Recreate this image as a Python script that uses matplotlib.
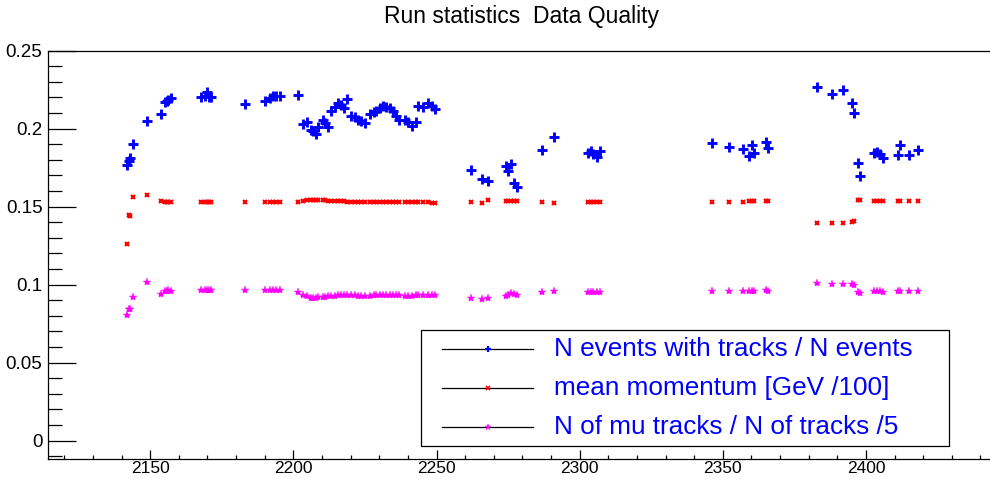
import matplotlib
matplotlib.use('Agg')
import matplotlib.pyplot as plt
from matplotlib.ticker import MultipleLocator, FuncFormatter
from matplotlib.patches import Rectangle
from matplotlib.lines import Line2D

# run numbers and the three quality ratios
runs = [2141.9, 2142.6, 2143.1, 2144.0, 2149.0, 2153.9, 2155.1, 2155.7, 2156.2, 2157.1,
        2167.9, 2169.0, 2169.8, 2170.5, 2171.4, 2183.0, 2190.0, 2191.8, 2192.9, 2194.1,
        2195.2, 2201.6, 2203.2, 2204.8, 2206.0, 2206.9, 2207.8, 2208.6, 2210.2, 2211.0,
        2212.1, 2213.3, 2214.5, 2215.6, 2216.8, 2217.7, 2218.9, 2220.0, 2221.5, 2222.6,
        2223.8, 2225.0, 2226.6, 2228.2, 2229.0, 2230.2, 2231.3, 2232.5, 2233.7, 2234.8,
        2236.0, 2236.8, 2238.9, 2240.1, 2241.3, 2243.0, 2243.6, 2245.3, 2247.1, 2248.3,
        2249.4, 2262.0, 2265.9, 2268.0, 2274.1, 2274.8, 2276.0, 2277.1, 2278.1, 2287.0,
        2291.0, 2303.0, 2303.9, 2304.7, 2305.9, 2307.1, 2346.1, 2352.1, 2356.9, 2359.1,
        2360.1, 2361.0, 2365.0, 2365.9, 2383.0, 2388.0, 2392.1, 2395.0, 2395.8, 2397.1,
        2398.0, 2402.9, 2403.9, 2404.9, 2405.8, 2411.1, 2412.0, 2415.0, 2418.1]

frac_tracks = [0.1769, 0.1790, 0.1813, 0.1905, 0.2050, 0.2093, 0.2174, 0.2180, 0.2186, 0.2197,
               0.2201, 0.2207, 0.2233, 0.2205, 0.2201, 0.2159, 0.2176, 0.2197, 0.2207, 0.2212,
               0.2207, 0.2216, 0.2031, 0.2042, 0.1993, 0.1984, 0.1967, 0.2010, 0.2057, 0.2035,
               0.2014, 0.2116, 0.2142, 0.2163, 0.2155, 0.2134, 0.2191, 0.2084, 0.2074, 0.2053,
               0.2048, 0.2035, 0.2095, 0.2106, 0.2116, 0.2133, 0.2148, 0.2138, 0.2133, 0.2116,
               0.2084, 0.2053, 0.2053, 0.2042, 0.2020, 0.2042, 0.2148, 0.2142, 0.2163, 0.2148,
               0.2127, 0.1737, 0.1680, 0.1665, 0.1758, 0.1726, 0.1771, 0.1654, 0.1628, 0.1863,
               0.1944, 0.1844, 0.1856, 0.1839, 0.1818, 0.1856, 0.1907, 0.1882, 0.1871, 0.1822,
               0.1893, 0.1844, 0.1914, 0.1878, 0.2270, 0.2223, 0.2249, 0.2166, 0.2102, 0.1782,
               0.1696, 0.1844, 0.1850, 0.1835, 0.1811, 0.1829, 0.1893, 0.1833, 0.1865]

mean_mom = [0.1264, 0.1445, 0.1438, 0.1560, 0.1573, 0.1539, 0.1532, 0.1530, 0.1530, 0.1530,
            0.1528, 0.1528, 0.1529, 0.1528, 0.1528, 0.1530, 0.1528, 0.1528, 0.1529, 0.1528,
            0.1528, 0.1530, 0.1536, 0.1540, 0.1541, 0.1541, 0.1541, 0.1540, 0.1540, 0.1540,
            0.1539, 0.1539, 0.1538, 0.1537, 0.1536, 0.1534, 0.1533, 0.1533, 0.1532, 0.1531,
            0.1531, 0.1532, 0.1533, 0.1532, 0.1531, 0.1531, 0.1531, 0.1531, 0.1530, 0.1530,
            0.1530, 0.1530, 0.1531, 0.1531, 0.1530, 0.1528, 0.1527, 0.1527, 0.1527, 0.1526,
            0.1526, 0.1530, 0.1526, 0.1545, 0.1535, 0.1535, 0.1537, 0.1536, 0.1535, 0.1530,
            0.1526, 0.1530, 0.1532, 0.1530, 0.1531, 0.1530, 0.1530, 0.1533, 0.1533, 0.1535,
            0.1535, 0.1535, 0.1535, 0.1535, 0.1396, 0.1398, 0.1396, 0.1403, 0.1407, 0.1541,
            0.1541, 0.1537, 0.1537, 0.1538, 0.1537, 0.1537, 0.1536, 0.1537, 0.1535]

frac_mu = [0.0806, 0.0846, 0.0842, 0.0919, 0.1015, 0.0940, 0.0958, 0.0961, 0.0963, 0.0962,
           0.0965, 0.0966, 0.0965, 0.0964, 0.0965, 0.0965, 0.0966, 0.0965, 0.0966, 0.0965,
           0.0965, 0.0950, 0.0935, 0.0925, 0.0915, 0.0912, 0.0914, 0.0918, 0.0921, 0.0924,
           0.0926, 0.0928, 0.0930, 0.0932, 0.0933, 0.0934, 0.0935, 0.0934, 0.0933, 0.0930,
           0.0928, 0.0927, 0.0930, 0.0932, 0.0933, 0.0934, 0.0935, 0.0935, 0.0934, 0.0934,
           0.0933, 0.0932, 0.0930, 0.0929, 0.0929, 0.0931, 0.0933, 0.0934, 0.0935, 0.0935,
           0.0936, 0.0916, 0.0908, 0.0914, 0.0927, 0.0933, 0.0944, 0.0940, 0.0934, 0.0955,
           0.0959, 0.0951, 0.0952, 0.0950, 0.0951, 0.0952, 0.0961, 0.0961, 0.0961, 0.0960,
           0.0961, 0.0961, 0.0963, 0.0961, 0.1008, 0.1004, 0.1004, 0.1004, 0.0995, 0.0951,
           0.0944, 0.0957, 0.0957, 0.0957, 0.0956, 0.0957, 0.0957, 0.0957, 0.0957]

labels = ['N events with tracks / N events',
          'mean momentum [GeV /100]',
          'N of mu tracks / N of tracks /5']

plt.rcParams['font.family'] = ['Liberation Sans', 'DejaVu Sans']

W, H = 990, 479
fig = plt.figure(figsize=(W / 100, H / 100), dpi=100)


def fx(px):
    return px / W


def fy(py):
    return 1 - py / H


# frame: left edge at 48 px, right edge runs past the picture (ROOT style clipping)
ax = fig.add_axes([fx(48), fy(459.4), fx(996.8) - fx(48), fy(50.7) - fy(459.4)])
ax.set_xlim(2114.3, 2445.7)
ax.set_ylim(-0.012, 0.25)

ax.plot(runs, frac_tracks, linestyle='none', marker='+', ms=7, mew=2.1, color='#0000ff')
ax.plot(runs, mean_mom, linestyle='none', marker='x', ms=3.5, mew=1.5, color='#ff0000')
ax.plot(runs, frac_mu, linestyle='none', marker='*', ms=6, mew=0.3, color='#ff00ff')

for s in ['left', 'bottom', 'top']:
    ax.spines[s].set_linewidth(0.9)
ax.spines['right'].set_visible(False)

ax.xaxis.set_major_locator(MultipleLocator(50))
ax.xaxis.set_minor_locator(MultipleLocator(10))
ax.yaxis.set_major_locator(MultipleLocator(0.05))
ax.yaxis.set_minor_locator(MultipleLocator(0.01))
ax.yaxis.set_major_formatter(FuncFormatter(lambda v, p: '%g' % round(v, 3)))

ax.tick_params(axis='y', which='major', direction='in', length=20, width=0.9,
               labelsize=13.5, pad=4, right=False)
ax.tick_params(axis='y', which='minor', direction='in', length=10, width=0.9, right=False)
ax.tick_params(axis='x', which='major', direction='in', length=6.5, width=0.9,
               labelsize=12.5, pad=1.2, top=False)
ax.tick_params(axis='x', which='minor', direction='in', length=3.2, width=0.9, top=False)

fig.text(fx(522), fy(17), 'Run statistics  Data Quality', ha='center', va='center', fontsize=16.5)

# legend box
fig.patches.append(Rectangle((fx(421), fy(446)), fx(949) - fx(421), fy(330) - fy(446),
                             transform=fig.transFigure, facecolor='white', edgecolor='black',
                             linewidth=0.9, zorder=5))
styles = [('+', 4.5, 1.6, '#0000ff'), ('x', 2.5, 1.2, '#ff0000'), ('*', 4.5, 0.3, '#ff00ff')]
rows = [349, 388, 427]
for (mk, ms, mew, col), lab, ry in zip(styles, labels, rows):
    fig.lines.append(Line2D([fx(442), fx(533)], [fy(ry), fy(ry)], color='black', lw=0.9,
                            transform=fig.transFigure, zorder=6))
    fig.lines.append(Line2D([fx(487.5)], [fy(ry)], marker=mk, ms=ms, mew=mew, color=col,
                            linestyle='none', transform=fig.transFigure, zorder=7))
    fig.text(fx(554), fy(ry), lab, ha='left', va='center', color='#0000ff', fontsize=18.8,
             zorder=7)

plt.savefig('out.png', dpi=100)
